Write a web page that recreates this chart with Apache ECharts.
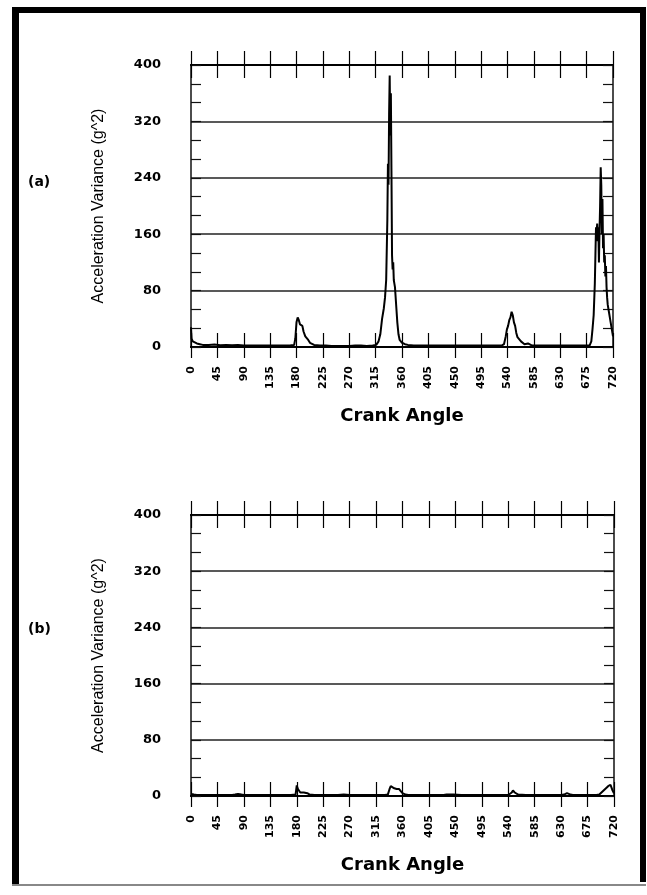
<!DOCTYPE html>
<html>
<head>
<meta charset="utf-8">
<script src="https://cdn.jsdelivr.net/npm/echarts@6/dist/echarts.min.js"></script>
<style>
html,body{margin:0;padding:0;background:#fff;}
#chart{width:647px;height:895px;}
</style>
</head>
<body>
<div id="chart"></div>
<script>
// ---- data ----
const panelLabels = ['(a)', '(b)'];
const xTitle = 'Crank Angle';
const yTitle = 'Acceleration Variance (g^2)';
const xTicks = [0,45,90,135,180,225,270,315,360,405,450,495,540,585,630,675,720];
const yTicks = [0,80,160,240,320,400];

const anglesA = [0,1,3,6,10,15,20,30,40,50,60,70,80,90,100,110,120,130,140,150,160,170,176,178,180,182,184,186,188,190,192,195,198,200,203,206,210,220,230,240,250,260,270,280,290,300,310,316,320,323,326,329,331,333,335,336,337,338,339,340,341,342,343,344,345,346,347,348,350,352,354,356,358,360,365,370,380,390,400,410,420,430,440,450,460,470,480,490,500,510,520,530,534,537,539,541,543,545,547,548,549,551,553,555,557,560,563,566,569,572,575,578,582,590,600,610,620,630,640,650,660,670,680,683,685,687,689,690,691,692,693,694,695,696,697,698,699,700,701,702,703,704,705,706,707,708,709,710,711,712,713,714,715,716,717,718,719,720];
const varianceA = [28,12,8,6,5,4,3,3,3.5,2.5,3,2.5,3,2,2,2,2,2,2,2,2,2.5,3,12,35,42,38,32,33,30,22,15,14,10,6,4,3,2,2,1.5,1.5,1.5,1.5,2,2,1.5,2,3,8,18,40,55,70,95,180,260,230,330,385,300,360,250,130,110,120,95,90,85,60,35,18,10,8,6,4,3,2,2,2,2,2,2,2,2,2,2,2,2,2,2,2,2,4,15,25,30,38,42,50,52,45,35,30,20,14,12,8,7,4,6,5,3,2,2,2,2,2,2,2,2,2,2,2,8,25,45,90,130,170,160,175,150,170,120,165,200,255,230,160,210,140,160,120,130,100,115,85,70,60,55,50,52,40,35,30,25,20,15];

const anglesB = [0,5,10,20,30,40,50,60,70,75,78,80,83,86,90,100,110,120,130,140,150,160,170,178,180,182,184,186,189,192,195,198,202,210,220,230,240,250,260,270,280,290,300,310,320,330,335,338,340,343,346,350,354,357,360,365,370,380,390,400,410,420,430,435,438,441,444,447,450,460,470,480,490,500,510,520,530,540,543,546,548,551,554,557,560,570,580,590,600,610,620,630,635,640,643,646,650,660,670,680,690,695,700,705,710,714,717,720];
const varianceB = [3,2,1.5,1.5,1.5,1.5,1.5,1.5,1.5,2,4,3,4,2,1.5,1.5,1.5,1.5,1.5,1.5,1.5,1.5,1.5,2,15,10,8,5,4,5,3,4,2,1.5,1.5,1.5,1.5,1.5,2,1.5,1.5,1.5,1.5,1.5,1.5,1.5,2,10,14,13,11,10,10,7,4,2,1.5,1.5,1.5,1.5,1.5,1.5,1.5,2,3,2,3,2,1.5,1.5,1.5,1.5,1.5,1.5,1.5,1.5,1.5,1.5,2,5,8,5,3,2,1.5,1.5,1.5,1.5,1.5,1.5,1.5,1.5,2,4,3,2,1.5,1.5,1.5,1.5,1.5,2,6,10,14,16,9,4];

// ---- chart ----
const FONT = 'DejaVu Sans';
const grids = [
  {left: 191, top: 65, width: 422, height: 282},
  {left: 191, top: 515, width: 423, height: 281}
];

const xAxes = [], yAxes = [], series = [];
const yMax = yTicks[yTicks.length-1];
grids.forEach((g, gi) => {
  const base = {type:'value', gridIndex: gi, min: xTicks[0], max: xTicks[xTicks.length-1], interval: 45,
    splitLine:{show:false}, axisLabel:{show:false},
    axisLine:{show:true, onZero:false, lineStyle:{color:'#000', width:2}}};
  xAxes.push(Object.assign({}, base, {position:'bottom', name: xTitle, nameLocation:'middle', nameGap: 60,
    nameTextStyle:{fontFamily: FONT, fontWeight:'bold', fontSize:18, color:'#000'},
    axisTick:{show:true, inside:false, length:11, lineStyle:{color:'#000', width:1.2}},
    axisLabel:{show:true, rotate:90, margin:19, fontFamily: FONT, fontWeight:'bold', fontSize:11, color:'#000',
      formatter: v => xTicks.indexOf(v) >= 0 ? String(v) : ''}}));
  xAxes.push(Object.assign({}, base, {position:'bottom', axisTick:{show:true, inside:true, length:14, lineStyle:{color:'#000', width:1.2}}}));
  xAxes.push(Object.assign({}, base, {position:'top', axisTick:{show:true, inside:false, length:14, lineStyle:{color:'#000', width:1.2}}}));
  xAxes.push(Object.assign({}, base, {position:'top', axisTick:{show:true, inside:true, length:13, lineStyle:{color:'#000', width:1.2}}}));

  const ybase = {type:'value', gridIndex: gi, min: yTicks[0], max: yMax, interval: 80,
    axisLine:{show:true, onZero:false, lineStyle:{color:'#111', width:1.5}},
    axisTick:{show:false}, minorTick:{show:false}};
  yAxes.push(Object.assign({}, ybase, {position:'left', name: yTitle, nameLocation:'middle', nameGap: 84,
    nameTextStyle:{fontFamily:'Liberation Sans', fontSize:16, color:'#000'},
    splitLine:{show:true, lineStyle:{color:'#222', width:1.5}},
    axisLabel:{show:true, margin:30, fontFamily: FONT, fontWeight:'bold', fontSize:13, color:'#000'}}));
  yAxes.push(Object.assign({}, ybase, {position:'right', splitLine:{show:false}, axisLabel:{show:false}}));
  const fine = {type:'value', gridIndex: gi, min: yTicks[0], max: yMax, interval: 80/3,
    axisLine:{show:false, onZero:false}, splitLine:{show:false}, axisLabel:{show:false},
    axisTick:{show:true, inside:true, length:10, lineStyle:{color:'#111', width:1.2}}};
  yAxes.push(Object.assign({}, fine, {position:'left'}));
  yAxes.push(Object.assign({}, fine, {position:'right'}));
});

const dataA = anglesA.map((a, i) => [a, varianceA[i]]);
const dataB = anglesB.map((a, i) => [a, varianceB[i]]);
series.push({type:'line', xAxisIndex:0, yAxisIndex:0, data: dataA, showSymbol:false, animation:false,
  lineStyle:{color:'#000', width:2}});
series.push({type:'line', xAxisIndex:4, yAxisIndex:4, data: dataB, showSymbol:false, animation:false,
  lineStyle:{color:'#000', width:2}});

const chart = echarts.init(document.getElementById('chart'), null, {renderer:'canvas'});
chart.setOption({
  animation:false,
  backgroundColor:'#fff',
  grid: grids,
  xAxis: xAxes,
  yAxis: yAxes,
  series: series,
  graphic: [
    {type:'rect', shape:{x:12, y:7, width:634, height:6}, style:{fill:'#000'}},
    {type:'rect', shape:{x:12, y:7, width:7, height:878}, style:{fill:'#000'}},
    {type:'rect', shape:{x:640, y:7, width:6, height:875}, style:{fill:'#000'}},
    {type:'rect', shape:{x:12, y:884, width:634, height:2}, style:{fill:'#888'}},
    {type:'text', left:28, top:175, style:{text: panelLabels[0], font:'bold 14px "DejaVu Sans"', fill:'#000'}},
    {type:'text', left:28, top:622, style:{text: panelLabels[1], font:'bold 14px "DejaVu Sans"', fill:'#000'}}
  ]
});
</script>
</body>
</html>
